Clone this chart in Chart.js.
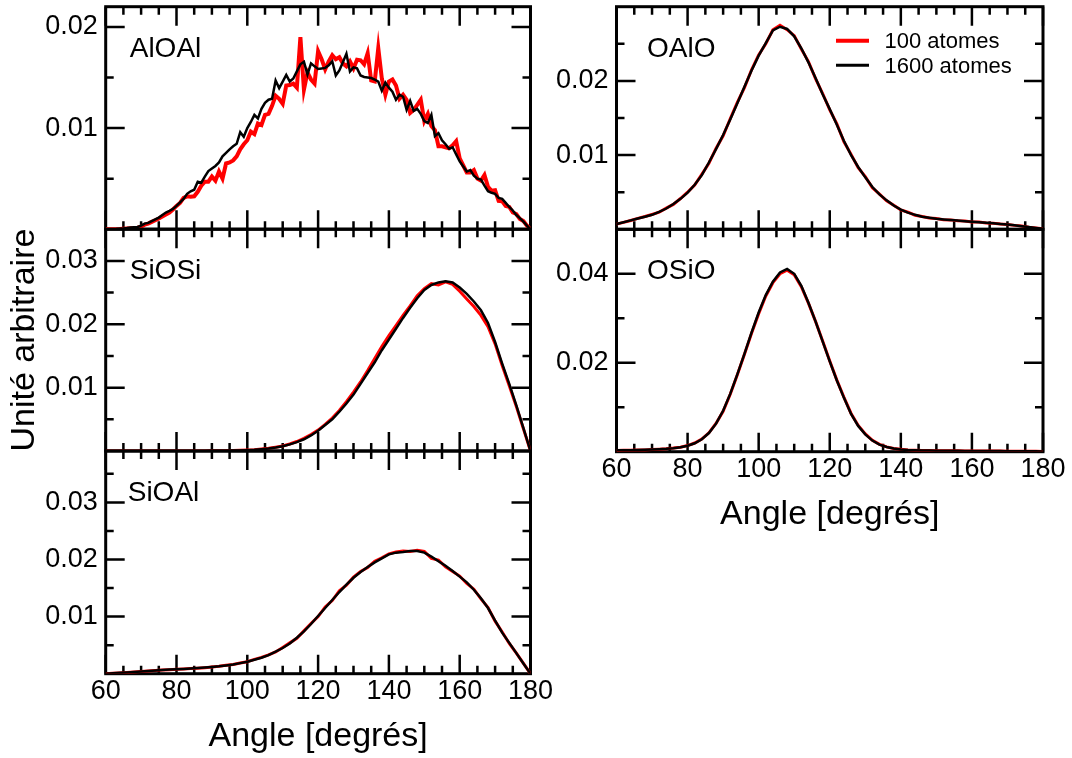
<!DOCTYPE html>
<html lang="fr">
<head>
<meta charset="utf-8">
<title>Distributions angulaires</title>
<script src="https://cdn.jsdelivr.net/npm/chart.js@4.4.1/dist/chart.umd.min.js"></script>
<style>
  html, body { margin: 0; padding: 0; background: #fff; }
  #stage { position: relative; width: 1072px; height: 758px; overflow: hidden; }
  #stage canvas { position: absolute; left: 0; top: 0; }
</style>
</head>
<body>
<div id="stage">
  <canvas id="alOAl" width="1072" height="758"></canvas>
  <canvas id="siOSi" width="1072" height="758"></canvas>
  <canvas id="siOAl" width="1072" height="758"></canvas>
  <canvas id="oAlO" width="1072" height="758"></canvas>
  <canvas id="oSiO" width="1072" height="758"></canvas>
</div>
<script>
const FONT = '"Liberation Sans", Arial, Helvetica, sans-serif';

// angles (degrees): 1 degree bins for AlOAl, 2 degree bins for the others
const anglesFine = Array.from({ length: 121 }, (_, i) => 60 + i);
const anglesCoarse = Array.from({ length: 61 }, (_, i) => 60 + 2 * i);

const xMajorTicks = [60, 80, 100, 120, 140, 160, 180];
const xMinorTicks = anglesFine.filter((a) => a % 5 === 0 && a % 20 !== 0);

// values below are in units of 1e-3
const alOAl1600 = [
  0, 0, 0, 0.02, 0.05, 0.08, 0.12, 0.18, 0.2, 0.22,
  0.35, 0.55, 0.62, 0.8, 0.98, 1.15, 1.4, 1.65, 1.82, 2.0,
  2.3, 2.65, 3.0, 3.5, 3.75, 3.9, 4.7, 4.6, 5.2, 5.75,
  6.0, 6.25, 6.6, 7.2, 7.55, 7.9, 8.2, 8.45, 9.6, 9.15,
  10.0, 10.6, 11.3, 10.95, 11.9, 12.5, 12.8, 12.9, 14.7, 13.95,
  14.6, 15.25, 14.6, 14.9, 15.6, 16.3, 16.55, 15.3, 16.4, 16.1,
  15.85, 15.9, 15.95, 16.2, 16.6, 15.2, 15.7, 16.5, 17.35, 15.6,
  16.0, 15.9, 15.2, 15.05, 15.0, 14.95, 14.8, 14.6, 13.7, 14.5,
  14.0, 13.6, 12.8, 13.3, 13.1, 11.8, 12.7, 11.7, 11.9, 11.4,
  10.7, 10.5, 11.3, 9.2, 9.5, 8.8, 8.4, 7.95, 8.1, 7.4,
  6.7, 6.2, 5.7, 5.85, 5.3, 5.0, 4.9, 4.3, 3.75, 3.6,
  3.5, 3.1, 3.0, 2.6, 2.2, 1.85, 1.4, 1.1, 0.75, 0.35, 0
];
const alOAl100 = [
  0, 0, 0, 0, 0.02, 0.05, 0.08, 0.1, 0.12, 0.15,
  0.25, 0.45, 0.55, 0.72, 0.88, 1.05, 1.25, 1.45, 1.65, 1.95,
  2.3, 2.6, 3.1, 3.25, 3.2, 3.25, 3.7, 4.3, 4.7, 4.7,
  5.2, 4.8, 5.7, 5.0, 6.5, 6.6, 6.8, 7.2, 7.9, 8.4,
  8.8, 9.65, 9.4, 10.45, 10.3, 11.3, 11.4, 12.2, 13.2, 12.9,
  12.4, 14.2, 14.25, 14.4, 14.0, 19.0, 13.8, 15.5, 14.8, 14.4,
  17.6, 16.8, 15.8, 16.6, 17.2, 16.8, 17.0, 16.4, 16.1, 16.6,
  15.9, 16.75, 16.7, 16.3, 17.4, 14.7, 14.6, 17.9, 14.9, 13.3,
  14.6, 14.8, 14.2, 12.9, 13.3, 12.8, 11.5, 11.8, 12.3, 12.8,
  10.7, 11.4, 10.2, 9.8, 8.2, 8.2, 8.1, 8.0, 8.3, 8.7,
  7.0, 6.3, 5.6, 5.6, 5.85, 5.0, 4.8, 5.35, 4.2, 3.8,
  3.85, 2.8, 2.75, 2.3, 2.2, 1.65, 1.5, 1.0, 0.8, 0.35, 0
];

const siOSi1600 = [
  0, 0, 0, 0, 0, 0, 0, 0, 0, 0,
  0, 0, 0, 0.01, 0.01, 0.02, 0.02, 0.04, 0.06, 0.08,
  0.12, 0.18, 0.27, 0.38, 0.55, 0.75, 1.05, 1.4, 1.85, 2.45,
  3.2, 4.1, 5.0, 6.2, 7.5, 8.9, 10.6, 12.3, 14.0, 15.9,
  17.6, 19.3, 21.0, 22.6, 24.1, 25.4, 26.2, 26.6, 26.8, 26.6,
  25.8, 24.8, 23.6, 22.2, 20.2, 17.2, 13.8, 10.6, 7.2, 3.6,
  0
];
const siOSi100 = [
  0, 0, 0, 0, 0, 0, 0, 0, 0, 0,
  0, 0, 0, 0.01, 0.01, 0.02, 0.03, 0.05, 0.07, 0.1,
  0.14, 0.2, 0.3, 0.42, 0.6, 0.8, 1.1, 1.5, 2.0, 2.6,
  3.3, 4.2, 5.2, 6.4, 7.8, 9.3, 10.9, 12.7, 14.6, 16.5,
  18.2, 19.8, 21.4, 22.9, 24.5, 25.6, 26.4, 26.2, 26.7, 26.3,
  25.2, 24.0, 22.8, 21.4, 19.6, 16.9, 13.5, 10.3, 7.0, 3.5,
  0
];

const siOAl1600 = [
  0.0, 0.1, 0.15, 0.22, 0.3, 0.4, 0.48, 0.56, 0.65, 0.72,
  0.78, 0.84, 0.9, 0.98, 1.08, 1.18, 1.3, 1.45, 1.6, 1.85,
  2.1, 2.45, 2.8, 3.25, 3.85, 4.5, 5.3, 6.3, 7.4, 8.7,
  10.1, 11.5, 12.9, 14.3, 15.6, 16.8, 17.8, 18.7, 19.5, 20.2,
  20.9, 21.2, 21.3, 21.5, 21.5, 21.2, 20.5, 19.7, 18.9, 18.0,
  17.0, 16.0, 14.7, 13.2, 11.5, 9.3, 7.2, 5.4, 3.6, 1.8,
  0
];
const siOAl100 = [
  0.0, 0.08, 0.14, 0.2, 0.28, 0.38, 0.46, 0.55, 0.63, 0.7,
  0.76, 0.83, 0.9, 0.97, 1.06, 1.17, 1.3, 1.47, 1.62, 1.88,
  2.1, 2.5, 2.85, 3.3, 3.8, 4.6, 5.4, 6.2, 7.5, 8.8,
  10.0, 11.7, 12.8, 14.5, 15.5, 16.9, 17.9, 18.6, 19.7, 20.3,
  21.0, 21.3, 21.5, 21.4, 21.6, 21.4, 20.2, 19.9, 18.7, 17.9,
  17.1, 15.8, 14.8, 13.1, 11.6, 9.2, 7.3, 5.3, 3.6, 1.8,
  0
];

const oAlO1600 = [
  0.72, 0.95, 1.2, 1.45, 1.7, 1.95, 2.35, 2.8, 3.4, 4.1,
  4.95, 6.0, 7.3, 9.0, 10.8, 12.7, 14.8, 17.0, 19.2, 21.4,
  23.4, 25.1, 26.8, 27.3, 27.0, 26.0, 24.4, 22.5, 20.4, 18.2,
  16.2, 14.1, 11.9, 10.0, 8.4, 7.0, 5.7, 4.7, 3.9, 3.2,
  2.65, 2.25, 1.95, 1.7, 1.55, 1.42, 1.33, 1.25, 1.18, 1.1,
  1.02, 0.95, 0.88, 0.8, 0.73, 0.65, 0.55, 0.42, 0.3, 0.18,
  0.08
];
const oAlO100 = [
  0.7, 0.93, 1.18, 1.47, 1.72, 2.0, 2.3, 2.85, 3.35, 4.15,
  5.0, 5.95, 7.4, 8.9, 10.9, 12.6, 14.9, 17.1, 19.1, 21.5,
  23.5, 25.0, 26.9, 27.5, 26.9, 26.1, 24.3, 22.6, 20.3, 18.3,
  16.1, 14.2, 11.8, 10.1, 8.3, 7.1, 5.6, 4.75, 3.85, 3.25,
  2.6, 2.3, 1.9, 1.72, 1.52, 1.45, 1.3, 1.27, 1.15, 1.12,
  1.0, 0.97, 0.86, 0.82, 0.71, 0.66, 0.53, 0.43, 0.29, 0.19,
  0.08
];

const oSiO1600 = [
  0.3, 0.32, 0.35, 0.38, 0.42, 0.48, 0.55, 0.65, 0.8, 1.0,
  1.35, 1.9, 2.8, 4.2, 6.3, 9.2, 13.0, 17.4, 22.0, 26.8,
  31.3, 35.2, 38.2, 40.3, 41.1, 40.0, 37.3, 33.5, 29.3, 24.8,
  20.3, 16.0, 12.1, 8.5, 5.8, 3.9, 2.5, 1.6, 1.05, 0.72,
  0.52, 0.4, 0.33, 0.28, 0.25, 0.23, 0.21, 0.2, 0.19, 0.18,
  0.17, 0.16, 0.15, 0.14, 0.13, 0.12, 0.11, 0.1, 0.09, 0.08,
  0.07
];
const oSiO100 = [
  0.28, 0.3, 0.33, 0.37, 0.41, 0.47, 0.55, 0.66, 0.82, 1.02,
  1.38, 1.95, 2.85, 4.25, 6.35, 9.1, 12.9, 17.3, 21.9, 26.6,
  31.0, 35.0, 38.0, 40.0, 40.8, 39.8, 37.1, 33.4, 29.3, 24.9,
  20.4, 16.1, 12.2, 8.6, 5.9, 4.0, 2.55, 1.65, 1.08, 0.74,
  0.53, 0.41, 0.34, 0.29, 0.26, 0.23, 0.21, 0.2, 0.19, 0.18,
  0.17, 0.16, 0.15, 0.14, 0.13, 0.12, 0.11, 0.1, 0.09, 0.08,
  0.07
];

const legendLabels = ["100 atomes", "1600 atomes"];

const Y_AXIS_WIDTH = 98;
const TICK_FONT = { family: FONT, size: 27, lineHeight: 1 };
const TITLE_FONT = { family: FONT, size: 34, lineHeight: 1 };

const panels = [
  { id: "alOAl", label: "AlOAl", area: [105.7, 6.7, 530.5, 229.2], labelDx: 24, yMax: 0.022,
    yMajor: [0.01, 0.02], yMinor: [0.005, 0.015], angles: anglesFine, red: alOAl100, black: alOAl1600, redWidth: 4 },
  { id: "siOSi", label: "SiOSi", area: [105.7, 229.2, 530.5, 451], labelDx: 24, yMax: 0.035,
    yMajor: [0.01, 0.02, 0.03], yMinor: [0.005, 0.015, 0.025], angles: anglesCoarse, red: siOSi100, black: siOSi1600,
    redWidth: 3, yTitle: "Unité arbitraire" },
  { id: "siOAl", label: "SiOAl", area: [105.7, 451, 530.5, 673.7], labelDx: 22, yMax: 0.039,
    yMajor: [0.01, 0.02, 0.03], yMinor: [0.005, 0.015, 0.025, 0.035], angles: anglesCoarse, red: siOAl100, black: siOAl1600,
    redWidth: 3, xTitle: "Angle [degrés]" },
  { id: "oAlO", label: "OAlO", area: [616.5, 6.7, 1043, 229.3], labelDx: 30.5, yMax: 0.03,
    yMajor: [0.01, 0.02], yMinor: [0.005, 0.015, 0.025], angles: anglesCoarse, red: oAlO100, black: oAlO1600,
    redWidth: 3, legend: true },
  { id: "oSiO", label: "OSiO", area: [616.5, 229.3, 1043, 451.7], labelDx: 30.5, yMax: 0.05,
    yMajor: [0.02, 0.04], yMinor: [0.01, 0.03], angles: anglesCoarse, red: oSiO100, black: oSiO1600,
    redWidth: 3, xTitle: "Angle [degrés]" }
];

const toPoints = (angles, values) => angles.map((x, i) => ({ x, y: values[i] / 1000 }));

function framePlugin(panel) {
  return {
    id: "frame",
    beforeDatasetsDraw(chart) {
      const { ctx, chartArea: a, scales: { x, y } } = chart;
      ctx.save();
      ctx.strokeStyle = "#000";
      ctx.lineWidth = 2.5;
      ctx.beginPath();
      const xTick = (value, len) => {
        const px = x.getPixelForValue(value);
        ctx.moveTo(px, a.bottom);
        ctx.lineTo(px, a.bottom - len);
        ctx.moveTo(px, a.top);
        ctx.lineTo(px, a.top + len);
      };
      const yTick = (value, len) => {
        const py = y.getPixelForValue(value);
        ctx.moveTo(a.left, py);
        ctx.lineTo(a.left + len, py);
        ctx.moveTo(a.right, py);
        ctx.lineTo(a.right - len, py);
      };
      xMajorTicks.forEach((v) => xTick(v, 19));
      xMinorTicks.forEach((v) => xTick(v, 8));
      panel.yMajor.forEach((v) => yTick(v, 19));
      panel.yMinor.forEach((v) => yTick(v, 8));
      ctx.stroke();
      ctx.lineWidth = 3;
      ctx.strokeRect(a.left, a.top, a.right - a.left, a.bottom - a.top);
      ctx.restore();
    },
    afterDraw(chart) {
      const { ctx, chartArea: a } = chart;
      ctx.save();
      ctx.fillStyle = "#000";
      ctx.textBaseline = "alphabetic";
      ctx.font = `28px ${FONT}`;
      ctx.fillText(panel.label, a.left + panel.labelDx, a.top + 50);

      if (panel.legend) {
        const colors = ["#ff0000", "#000000"];
        const widths = [4, 3];
        ctx.font = `22px ${FONT}`;
        legendLabels.forEach((text, i) => {
          const lineY = a.top + 34 + i * 24.5;
          ctx.strokeStyle = colors[i];
          ctx.lineWidth = widths[i];
          ctx.beginPath();
          ctx.moveTo(a.left + 219.5, lineY);
          ctx.lineTo(a.left + 252.5, lineY);
          ctx.stroke();
          ctx.fillText(text, a.left + 268, lineY + 7.5);
        });
      }
      ctx.restore();
    }
  };
}

function buildChart(panel) {
  const [left, top, right, bottom] = panel.area;
  const xHeight = panel.xTitle ? 80.3 : 20;

  return new Chart(document.getElementById(panel.id), {
    type: "line",
    data: {
      datasets: [
        {
          label: legendLabels[1],
          data: toPoints(panel.angles, panel.black),
          borderColor: "#000000",
          borderWidth: 2.5,
          order: 1
        },
        {
          label: legendLabels[0],
          data: toPoints(panel.angles, panel.red),
          borderColor: "#ff0000",
          borderWidth: panel.redWidth,
          order: 2
        }
      ]
    },
    options: {
      responsive: false,
      animation: false,
      events: [],
      elements: {
        point: { radius: 0 },
        line: { tension: 0, fill: false }
      },
      layout: {
        padding: {
          left: left - Y_AXIS_WIDTH,
          top,
          right: 1072 - right,
          bottom: 758 - bottom - xHeight
        }
      },
      plugins: {
        legend: { display: false },
        tooltip: { enabled: false }
      },
      scales: {
        x: {
          type: "linear",
          min: 60,
          max: 180,
          afterBuildTicks: (scale) => {
            scale.ticks = xMajorTicks.map((value) => ({ value }));
          },
          afterFit: (scale) => {
            scale.height = xHeight;
            scale.paddingLeft = 0;
            scale.paddingRight = 0;
          },
          grid: { display: false, drawTicks: false },
          border: { display: false },
          ticks: {
            display: Boolean(panel.xTitle),
            autoSkip: false,
            maxRotation: 0,
            padding: 4,
            color: "#000",
            font: TICK_FONT
          },
          title: {
            display: Boolean(panel.xTitle),
            text: panel.xTitle || "",
            color: "#000",
            padding: 0,
            font: TITLE_FONT
          }
        },
        y: {
          type: "linear",
          min: 0,
          max: panel.yMax,
          afterBuildTicks: (scale) => {
            scale.ticks = panel.yMajor.map((value) => ({ value }));
          },
          afterFit: (scale) => {
            scale.width = Y_AXIS_WIDTH;
            scale.paddingTop = 0;
            scale.paddingBottom = 0;
          },
          grid: { display: false, drawTicks: false },
          border: { display: false },
          ticks: {
            padding: 8,
            color: "#000",
            font: TICK_FONT,
            callback: (value) => value.toFixed(2)
          },
          title: {
            display: Boolean(panel.yTitle),
            text: panel.yTitle || "",
            color: "#000",
            padding: 0,
            font: TITLE_FONT
          }
        }
      }
    },
    plugins: [framePlugin(panel)]
  });
}

panels.forEach(buildChart);
</script>
</body>
</html>
